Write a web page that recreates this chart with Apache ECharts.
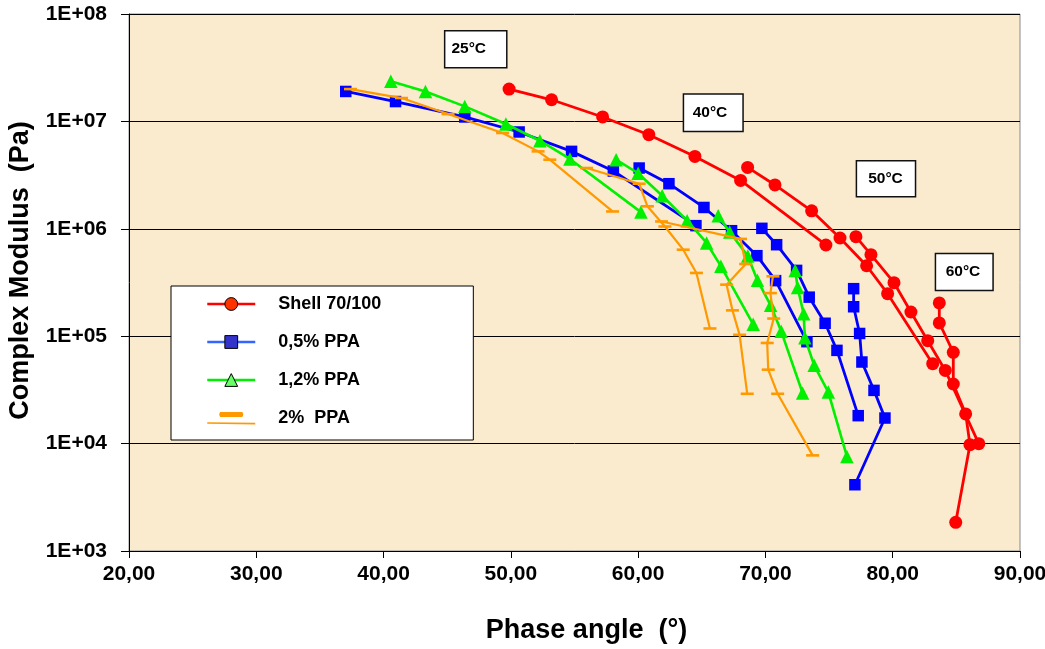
<!DOCTYPE html>
<html><head><meta charset="utf-8">
<script src="https://cdn.jsdelivr.net/npm/echarts@6/dist/echarts.min.js"></script>
<style>html,body{margin:0;padding:0;background:#fff}#c{width:1045px;height:649px}</style>
</head><body><div id="c"></div>
<script>
// ---- data (phase angle in degrees, complex modulus in Pa), one row per temperature sweep ----
const seriesNames = ['Shell 70/100', '0,5% PPA', '1,2% PPA', '2%  PPA'];
const temperatures = ['25°C', '40°C', '50°C', '60°C'];
const xTickValues = [20, 30, 40, 50, 60, 70, 80, 90];

const shellPhase = [
  [49.86, 53.20, 57.21, 60.84, 64.46, 68.05, 74.75],
  [68.60, 70.75, 73.63, 75.86, 77.95, 79.60, 83.14],
  [77.11, 78.29, 80.10, 81.43, 82.75, 84.13, 86.76],
  [83.66, 83.66, 84.76, 84.76, 85.73, 86.07, 84.95]
];
const shellModulus = [
  [2.00e7, 1.59e7, 1.10e7, 7.52e6, 4.72e6, 2.82e6, 7.07e5],
  [3.73e6, 2.56e6, 1.47e6, 8.21e5, 4.53e5, 2.49e5, 5.55e4],
  [8.44e5, 5.74e5, 3.15e5, 1.68e5, 9.08e4, 4.80e4, 9.98e3],
  [2.04e5, 1.33e5, 7.07e4, 3.59e4, 1.89e4, 9.77e3, 1.85e3]
];
const ppa05Phase = [
  [37.03, 40.94, 46.38, 50.65, 54.77, 58.05, 64.54],
  [60.08, 62.42, 65.17, 67.34, 69.33, 70.80, 73.26],
  [69.72, 70.88, 72.45, 73.44, 74.69, 75.62, 77.29],
  [76.93, 76.93, 77.40, 77.58, 78.53, 79.39, 77.03]
];
const ppa05Modulus = [
  [1.90e7, 1.53e7, 1.10e7, 7.97e6, 5.26e6, 3.45e6, 1.07e6],
  [3.68e6, 2.63e6, 1.58e6, 9.60e5, 5.62e5, 3.29e5, 8.89e4],
  [1.01e6, 7.11e5, 4.10e5, 2.31e5, 1.32e5, 7.38e4, 1.82e4],
  [2.77e5, 1.88e5, 1.06e5, 5.75e4, 3.13e4, 1.73e4, 4.14e3]
];
const ppa12Phase = [
  [40.57, 43.29, 46.38, 49.61, 52.28, 54.64, 60.22],
  [58.27, 60.00, 61.89, 63.85, 65.38, 66.50, 69.04],
  [66.29, 67.19, 68.61, 69.37, 70.41, 71.24, 72.92],
  [72.34, 72.53, 73.00, 73.10, 73.83, 74.94, 76.40]
];
const ppa12Modulus = [
  [2.36e7, 1.90e7, 1.38e7, 9.46e6, 6.61e6, 4.47e6, 1.43e6],
  [4.40e6, 3.29e6, 2.03e6, 1.19e6, 7.38e5, 4.49e5, 1.29e5],
  [1.32e6, 9.36e5, 5.57e5, 3.32e5, 1.94e5, 1.11e5, 2.96e4],
  [4.10e5, 2.84e5, 1.62e5, 9.68e4, 5.35e4, 3.02e4, 7.60e3]
];
const ppa2Phase = [
  [37.40, 41.41, 45.07, 49.35, 52.14, 53.06, 57.99],
  [55.95, 60.08, 60.73, 62.10, 63.54, 64.58, 65.64],
  [61.84, 68.04, 68.45, 66.95, 67.41, 67.97, 68.57],
  [70.59, 70.39, 70.65, 70.14, 70.22, 70.96, 73.71]
];
const ppa2Modulus = [
  [2.00e7, 1.65e7, 1.17e7, 7.80e6, 5.26e6, 4.40e6, 1.45e6],
  [3.68e6, 2.63e6, 1.62e6, 1.05e6, 6.39e5, 3.88e5, 1.18e5],
  [1.17e6, 8.05e5, 4.70e5, 3.02e5, 1.74e5, 1.03e5, 2.91e4],
  [3.61e5, 2.52e5, 1.46e5, 8.65e4, 4.88e4, 2.91e4, 7.77e3]
];
// anchor (data units) of the temperature annotation boxes
const tempLabelPhase = [47.24, 65.90, 79.47, 85.62];
const tempLabelModulus = [4.70e7, 1.205e7, 2.93e6, 3.97e5];

// ---- styling ----
const FONT = "'Liberation Sans', Arial, sans-serif";
const materials = [
  { phase: shellPhase, mod: shellModulus, color: '#FF0000', symbol: 'circle', size: 13, width: 2.8 },
  { phase: ppa05Phase, mod: ppa05Modulus, color: '#0000FF', symbol: 'rect', size: 11.5, width: 2.8 },
  { phase: ppa12Phase, mod: ppa12Modulus, color: '#00F000', symbol: 'triangle', size: 13.5, width: 2.6 },
  { phase: ppa2Phase, mod: ppa2Modulus, color: '#FF9900', symbol: 'rect', size: [13, 2.6], width: 2.2 }
];

const series = [];
materials.forEach((m, i) => {
  m.phase.forEach((row, t) => {
    series.push({
      name: seriesNames[i],
      type: 'line',
      data: row.map((x, k) => [x, m.mod[t][k]]),
      symbol: m.symbol,
      symbolSize: m.size,
      showAllSymbol: true,
      lineStyle: { color: m.color, width: m.width },
      itemStyle: { color: m.color, borderWidth: 0 },
      emphasis: { disabled: true },
      animation: false,
      z: 2 + i
    });
  });
});

const tempPads = [[13.5, 20, 5, 6], [7.5, 15, 11.5, 8.5], [7.5, 12, 10, 11], [9, 12, 9.5, 9.5]];
series.push({
  type: 'scatter',
  name: 'temps',
  symbolSize: 0,
  animation: false,
  silent: true,
  z: 20,
  emphasis: { disabled: true },
  data: temperatures.map((t, i) => ({
    name: t,
    value: [tempLabelPhase[i], tempLabelModulus[i]],
    label: { padding: tempPads[i] }
  })),
  label: {
    show: true, position: 'inside', formatter: p => p.name,
    fontFamily: FONT, fontWeight: 'bold', fontSize: 15.5, color: '#000', lineHeight: 17,
    textBorderWidth: 0, textShadowBlur: 0, opacity: 1,
    backgroundColor: '#fff', borderColor: '#111', borderWidth: 1.5
  }
});

const orangeIcon = 'path://M0,0 L0.01,0 L0,0.01 Z M48,16 L47.99,16 L48,15.99 Z ' +
  'M13,2 L35,2 Q37,4.5 35,7 L13,7 Q11,4.5 13,2 Z M0,12.2 L48,12.8 L48,14.4 L0,13.8 Z';

const option = {
  backgroundColor: '#fff',
  animation: false,
  grid: { left: 129, right: 25, top: 14, bottom: 98, show: true, outerBoundsMode: 'none', containLabel: false,
          backgroundColor: '#FAEACE', borderColor: '#8a8a8a', borderWidth: 1 },
  xAxis: {
    type: 'value', min: xTickValues[0], max: xTickValues[xTickValues.length - 1], interval: 10,
    name: 'Phase angle  (°)', nameLocation: 'middle', nameGap: 66,
    nameTextStyle: { fontFamily: FONT, fontWeight: 'bold', fontSize: 27, color: '#000', padding: [0, 0, 0, 24] },
    axisLine: { show: true, lineStyle: { color: '#000', width: 1 } },
    axisTick: { show: true, length: 7, lineStyle: { color: '#000' } },
    splitLine: { show: false },
    axisLabel: { margin: 13, fontFamily: FONT, fontWeight: 'bold', fontSize: 21, color: '#000',
                 formatter: v => v.toFixed(2).replace('.', ',') }
  },
  yAxis: {
    type: 'log', logBase: 10, min: 1e3, max: 1e8,
    name: 'Complex Modulus  (Pa)', nameLocation: 'middle', nameGap: 95,
    nameTextStyle: { fontFamily: FONT, fontWeight: 'bold', fontSize: 27, color: '#000', padding: [0, 0, 0, 24] },
    axisLine: { show: true, lineStyle: { color: '#000', width: 1 } },
    axisTick: { show: true, length: 8, lineStyle: { color: '#000' } },
    splitLine: { show: true, lineStyle: { color: '#000', width: 1 } },
    axisLabel: { margin: 22, fontFamily: FONT, fontWeight: 'bold', fontSize: 21, color: '#000',
                 formatter: v => '1E+' + String(Math.round(Math.log10(v))).padStart(2, '0') }
  },
  legend: {
    orient: 'vertical', left: 171, top: 286,
    backgroundColor: '#fff', borderColor: '#000', borderWidth: 1,
    padding: [8, 92, 12, 35],
    itemWidth: 48, itemHeight: 16, itemGap: 18,
    selectedMode: false,
    textStyle: { fontFamily: FONT, fontWeight: 'bold', fontSize: 18, color: '#000', lineHeight: 20, padding: [0, 0, 0, 18] },
    data: [
      { name: seriesNames[0], itemStyle: { color: '#FF3300', borderColor: '#000', borderWidth: 1 }, lineStyle: { color: '#FF0000', width: 2.5 } },
      { name: seriesNames[1], itemStyle: { color: '#3333CC', borderColor: '#000', borderWidth: 1 }, lineStyle: { color: '#3366FF', width: 2.5 } },
      { name: seriesNames[2], itemStyle: { color: '#66FF66', borderColor: '#000', borderWidth: 1 }, lineStyle: { color: '#00EE00', width: 2.5 } },
      { name: seriesNames[3], icon: orangeIcon, itemStyle: { color: '#FF9900', borderWidth: 0 } }
    ]
  },
  series: series
};

const chart = echarts.init(document.getElementById('c'), null, { renderer: 'canvas' });
chart.setOption(option);
</script>
</body></html>
